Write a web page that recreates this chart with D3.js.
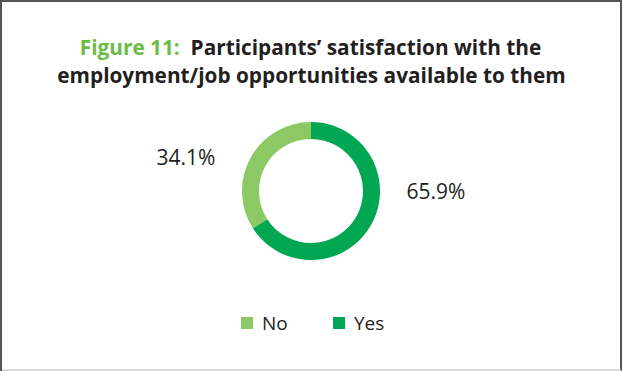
<!DOCTYPE html>
<html>
<head>
<meta charset="utf-8">
<script src="https://cdn.jsdelivr.net/npm/d3@7/dist/d3.min.js"></script>
<style>
  html, body { margin: 0; padding: 0; background: #fff; }
  svg { display: block; }
  text { font-family: "Open Sans", "Noto Sans", sans-serif; }
</style>
</head>
<body>
<svg id="chart" width="623" height="371"></svg>
<script>
// Survey answers and their shares (%)
const categories = ["No", "Yes"];
const shares = [34.1, 65.9];
const colors = ["#8cc863", "#00a651"];
const titleLead = "Figure 11:";
const titleLines = ["Participants\u2019 satisfaction with the", "employment/job opportunities available to them"];

const W = 623, H = 371;
const svg = d3.select("#chart");

// Frame: dark on left, top and right, faint rule along the bottom
svg.append("path").attr("d", `M1,${H} V1 H${W - 2} V${H}`)
  .attr("fill", "none").attr("stroke", "#555").attr("stroke-width", 2);
svg.append("line").attr("x1", 2).attr("x2", W - 2).attr("y1", H - 1).attr("y2", H - 1)
  .attr("stroke", "#cfcfcf").attr("stroke-width", 1.5);

// Title
const title = svg.append("text").attr("text-anchor", "middle")
  .attr("font-size", 20.8).attr("font-weight", 700).attr("fill", "#231f20");
const l1 = title.append("tspan").attr("x", W / 2 - 1).attr("y", 55);
l1.append("tspan").attr("fill", "#6abd45").text(titleLead + "\u00a0 ");
l1.append("tspan").text(titleLines[0]);
title.append("tspan").attr("x", W / 2).attr("y", 83).text(titleLines[1]);

// Donut
const cx = 311, cy = 191, rOuter = 69, rInner = 52;
const data = categories.map((c, i) => ({ cat: c, value: shares[i], color: colors[i] }));
const pie = d3.pie().value(d => d.value).sort(null).startAngle(0).endAngle(-2 * Math.PI);
const arcs = pie(data);
const arc = d3.arc().innerRadius(rInner).outerRadius(rOuter);
const g = svg.append("g").attr("transform", `translate(${cx},${cy})`);
g.selectAll("path").data(arcs).join("path")
  .attr("d", arc).attr("fill", d => d.data.color);

// Value labels
const labelPos = { No: [186, 165], Yes: [436, 199] };
svg.selectAll("text.val").data(data).join("text").attr("class", "val")
  .attr("x", d => labelPos[d.cat][0]).attr("y", d => labelPos[d.cat][1])
  .attr("text-anchor", "middle").attr("font-size", 21).attr("fill", "#231f20")
  .text(d => d3.format(".1f")(d.value) + "%");

// Legend
const legendX = [241, 333];
const lg = svg.selectAll("g.leg").data(data).join("g").attr("class", "leg")
  .attr("transform", (d, i) => `translate(${legendX[i]},317)`);
lg.append("rect").attr("width", 12).attr("height", 12).attr("fill", d => d.color);
lg.append("text").attr("x", 21).attr("y", 13).attr("font-size", 19).attr("fill", "#231f20")
  .text(d => d.cat);
</script>
</body>
</html>
